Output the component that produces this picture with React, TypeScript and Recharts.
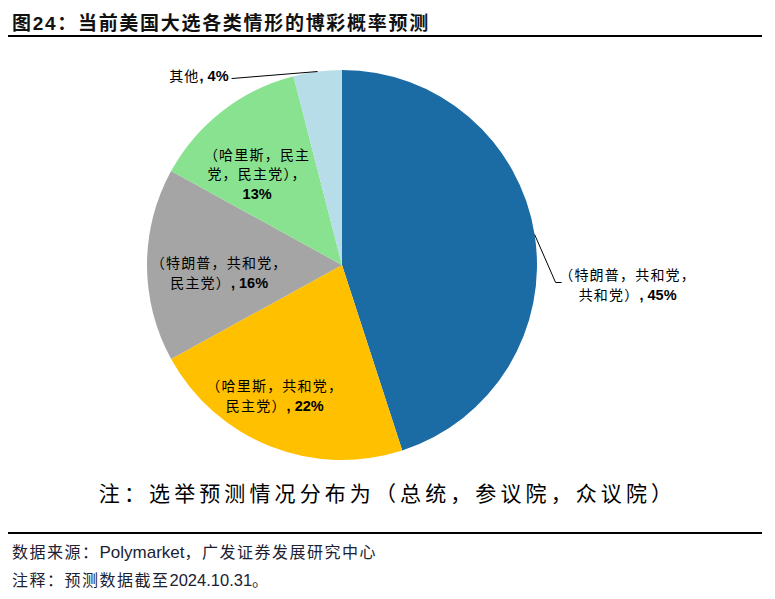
import React from 'react';
import { PieChart, Pie, Cell } from 'recharts';

// slices, clockwise from 12 o'clock
const names = ['特朗普-共和党-共和党', '哈里斯-共和党-民主党', '特朗普-共和党-民主党', '哈里斯-民主党-民主党', '其他'];
const values = [45, 22, 16, 13, 4];
const colors = ['#1B6BA5', '#FFC000', '#A5A5A5', '#88E290', '#B7DDE8'];

// label text lines; the last line gets ", xx%" appended
const labelLines = [
  ['（特朗普，共和党，', '共和党）'],
  ['（哈里斯，共和党，', '民主党）'],
  ['（特朗普，共和党，', '民主党）'],
  ['（哈里斯，民主', '党，民主党），', ''],
  ['其他'],
];

const data = names.map((name, i) => ({ name, value: values[i] }));

const RAD = Math.PI / 180;
const FONT = "'Liberation Sans', 'Noto Sans CJK SC', sans-serif";

// where each label sits: r = fraction of radius, dx/dy small nudge
const inside: Record<number, { r: number; dx: number; dy: number }> = {
  1: { r: 0.7, dx: -17, dy: 4 },
  2: { r: 0.63, dx: 0, dy: 8 },
  3: { r: 0.66, dx: -6, dy: 11 },
};

const renderLabel = (props: any) => {
  const { cx, cy, midAngle, outerRadius, index } = props;
  const lines = labelLines[index];
  const pct = `${values[index]}%`;
  const cos = Math.cos(-midAngle * RAD);
  const sin = Math.sin(-midAngle * RAD);
  const lh = 19.5;

  const renderLines = (x: number, yTop: number, anchor: 'middle' | 'end') =>
    lines.map((t, i) => {
      const last = i === lines.length - 1;
      return (
        <text key={i} x={x} y={yTop + i * lh} textAnchor={anchor} dominantBaseline="central" fontFamily={FONT} fontSize={14} fill="#000">
          <tspan letterSpacing={1.2}>{t}</tspan>
          {last && (
            <tspan fontWeight="bold" fontSize={14.5}>
              {t === '' ? pct : `, ${pct}`}
            </tspan>
          )}
        </text>
      );
    });

  if (index === 0) {
    const sx = cx + outerRadius * cos;
    const sy = cy + outerRadius * sin;
    const ex = sx + 21;
    const ey = sy + 48;
    return (
      <g key="l0">
        <polyline points={`${sx},${sy} ${ex},${ey} ${ex + 6},${ey}`} fill="none" stroke="#000" strokeWidth={1} />
        {renderLines(ex + 72, ey - 7, 'middle')}
      </g>
    );
  }
  if (index === 4) {
    const sx = cx + outerRadius * cos;
    const sy = cy + outerRadius * sin;
    const ex = sx - 86;
    const ey = sy + 7;
    return (
      <g key="l4">
        <line x1={sx} y1={sy} x2={ex} y2={ey} stroke="#000" strokeWidth={1} />
        {renderLines(ex - 3, ey - 3, 'end')}
      </g>
    );
  }
  const p = inside[index];
  const x = cx + outerRadius * p.r * cos + p.dx;
  const y = cy + outerRadius * p.r * sin + p.dy;
  return <g key={`l${index}`}>{renderLines(x, y - ((lines.length - 1) * lh) / 2, 'middle')}</g>;
};

const cjk = { letterSpacing: 1.5 };
const latin = { fontSize: 17 };

export default function App() {
  return (
    <div style={{ position: 'absolute', left: 0, top: 0, width: 775, height: 599, background: '#fff', fontFamily: FONT }}>
      <div style={{ position: 'absolute', left: 12, top: 8, fontSize: 19, fontWeight: 'bold', letterSpacing: 1.7, color: '#111', whiteSpace: 'nowrap' }}>
        图24：当前美国大选各类情形的博彩概率预测
      </div>
      <div style={{ position: 'absolute', left: 8, top: 35, width: 754, height: 1.5, background: '#000' }} />
      <PieChart width={775} height={470} style={{ position: 'absolute', left: 0, top: 0 }}>
        <Pie
          data={data}
          dataKey="value"
          cx={337}
          cy={260}
          outerRadius={195}
          startAngle={90}
          endAngle={-270}
          stroke="none"
          label={renderLabel}
          labelLine={false}
          isAnimationActive={false}
        >
          {data.map((d, i) => (
            <Cell key={d.name} fill={colors[i]} />
          ))}
        </Pie>
      </PieChart>
      <div style={{ position: 'absolute', left: 0, width: 775, top: 477, textAlign: 'center', fontSize: 21, letterSpacing: 4.1, color: '#000', whiteSpace: 'nowrap' }}>
        注：选举预测情况分布为（总统，参议院，众议院）
      </div>
      <div style={{ position: 'absolute', left: 8, top: 532, width: 754, height: 1.5, background: '#000' }} />
      <div style={{ position: 'absolute', left: 12, top: 539, fontSize: 16, color: '#1a2233', whiteSpace: 'nowrap' }}>
        <span style={cjk}>数据来源：</span>
        <span style={latin}>Polymarket</span>
        <span style={cjk}>，广发证券发展研究中心</span>
      </div>
      <div style={{ position: 'absolute', left: 12, top: 567, fontSize: 16, color: '#1a2233', whiteSpace: 'nowrap' }}>
        <span style={cjk}>注释：预测数据截至</span>
        <span style={{ fontSize: 16.5 }}>2024.10.31</span>
        <span>。</span>
      </div>
    </div>
  );
}
